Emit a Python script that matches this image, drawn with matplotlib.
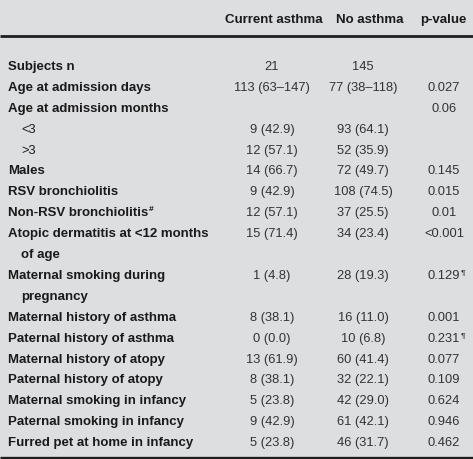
import matplotlib
matplotlib.use("Agg")
import matplotlib.pyplot as plt

# ---- data ----
headers = ["Current asthma", "No asthma", "p-value"]
labels = [
    "Subjects n",
    "Age at admission days",
    "Age at admission months",
    "<3",
    ">3",
    "Males",
    "RSV bronchiolitis",
    "Non-RSV bronchiolitis",
    "Atopic dermatitis at <12 months",
    "of age",
    "Maternal smoking during",
    "pregnancy",
    "Maternal history of asthma",
    "Paternal history of asthma",
    "Maternal history of atopy",
    "Paternal history of atopy",
    "Maternal smoking in infancy",
    "Paternal smoking in infancy",
    "Furred pet at home in infancy",
]
label_sup = ["", "", "", "", "", "", "", "#", "", "", "", "", "", "", "", "", "", "", ""]
indented = [False, False, False, True, True, False, False, False, False, True,
            False, True, False, False, False, False, False, False, False]
current_asthma = ["21", "113 (63\u2013147)", "", "9 (42.9)", "12 (57.1)", "14 (66.7)",
                  "9 (42.9)", "12 (57.1)", "15 (71.4)", "", "1 (4.8)", "",
                  "8 (38.1)", "0 (0.0)", "13 (61.9)", "8 (38.1)", "5 (23.8)",
                  "9 (42.9)", "5 (23.8)"]
no_asthma = ["145", "77 (38\u2013118)", "", "93 (64.1)", "52 (35.9)", "72 (49.7)",
             "108 (74.5)", "37 (25.5)", "34 (23.4)", "", "28 (19.3)", "",
             "16 (11.0)", "10 (6.8)", "60 (41.4)", "32 (22.1)", "42 (29.0)",
             "61 (42.1)", "46 (31.7)"]
p_values = ["", "0.027", "0.06", "", "", "0.145", "0.015", "0.01", "<0.001", "",
            "0.129", "", "0.001", "0.231", "0.077", "0.109", "0.624", "0.946", "0.462"]
p_sup = ["", "", "", "", "", "", "", "", "", "", "\u00b6", "", "", "\u00b6", "", "", "", "", ""]

# ---- layout ----
plt.rcParams["font.family"] = ["Liberation Sans", "DejaVu Sans"]
W, H = 473, 460
bg = "#dddee0"
fig = plt.figure(figsize=(W / 100, H / 100), dpi=100)
fig.patch.set_facecolor(bg)
ax = fig.add_axes([0, 0, 1, 1])
ax.set_xlim(0, W)
ax.set_ylim(H, 0)
ax.axis("off")

fsb = 9.5
fsr = 9.3
tc = "#1a1a1a"
vc = "#333333"

col_x = [272, 363, 444]
header_x = [274, 370, 443]
header_base = 23
for x, h in zip(header_x, headers):
    ax.text(x, header_base, h, ha="center", va="baseline", fontsize=fsb,
            fontweight="bold", color=tc)

ax.plot([0, W], [37, 37], color="#1e1e1e", lw=2.0, solid_capstyle="butt")
ax.plot([0, W], [458.5, 458.5], color="#1e1e1e", lw=2.4, solid_capstyle="butt")


def add_sup(textobj, y, s, color, weight):
    fig.canvas.draw()
    bb = textobj.get_window_extent()
    fig.text((bb.x1 + 0.5) / W, 1 - (y - 5) / H, s, ha="left", va="baseline",
             fontsize=6, fontweight=weight, color=color)


y0 = 70
dy = 20.9
for i, lab in enumerate(labels):
    y = y0 + i * dy
    x = 21 if indented[i] else 8
    plain = lab in ("<3", ">3")
    t = ax.text(x, y, lab, ha="left", va="baseline",
                fontsize=fsr if plain else fsb,
                fontweight="normal" if plain else "bold", color=tc)
    if label_sup[i]:
        add_sup(t, y, label_sup[i], tc, "bold")
    if current_asthma[i]:
        ax.text(col_x[0], y, current_asthma[i], ha="center", va="baseline",
                fontsize=fsr, color=vc)
    if no_asthma[i]:
        ax.text(col_x[1], y, no_asthma[i], ha="center", va="baseline",
                fontsize=fsr, color=vc)
    if p_values[i]:
        t2 = ax.text(col_x[2], y, p_values[i], ha="center", va="baseline",
                     fontsize=fsr, color=vc)
        if p_sup[i]:
            add_sup(t2, y, p_sup[i], vc, "normal")

fig.savefig("out.png", dpi=100, facecolor=bg)
